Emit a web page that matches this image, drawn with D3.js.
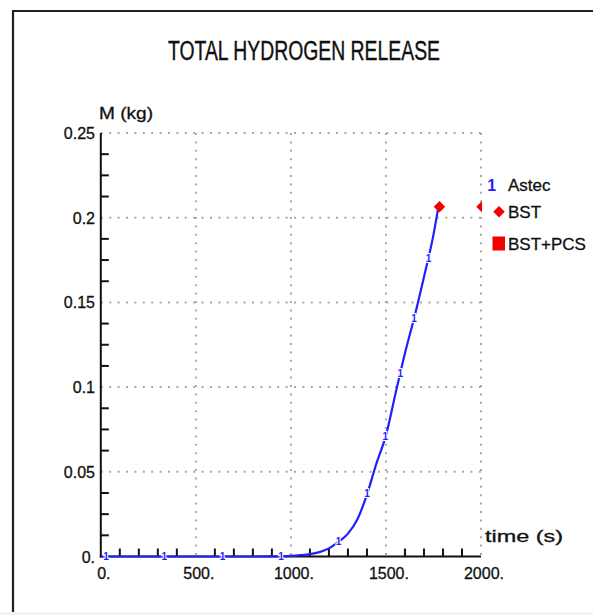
<!DOCTYPE html>
<html><head><meta charset="utf-8">
<script src="https://cdn.jsdelivr.net/npm/d3@7"></script>
<style>html,body{margin:0;padding:0;background:#fff;}svg{display:block;}</style>
</head><body>
<script>
// ---- data ----
const title = "TOTAL HYDROGEN RELEASE";
const yLabel = "M (kg)";
const xLabel = "time (s)";
const xTicks = [0, 500, 1000, 1500, 2000];
const xTickLabels = ["0.", "500.", "1000.", "1500.", "2000."];
const yTicks = [0, 0.05, 0.1, 0.15, 0.2, 0.25];
const yTickLabels = ["0.", "0.05", "0.1", "0.15", "0.2", "0.25"];
const astecT = [0,100,200,300,400,500,600,700,800,900,1000,1050,1100,1150,1200,1250,1300,1350,1400,1450,1500,1550,1600,1650,1700,1750,1776];
const astecM = [0,0,0,0,0,0,0,0,0,0.0001,0.0004,0.0008,0.0014,0.0026,0.0048,0.0086,0.0135,0.022,0.0365,0.055,0.0715,0.096,0.12,0.1415,0.165,0.19,0.2065];
const astecMarkT = [28,334,640,948,1251,1401,1496,1575,1648,1724];
const astecMarkM = [0,0,0,0.0002,0.0086,0.0372,0.0707,0.1081,0.1406,0.176];
const bstT = [1776, 2000];
const bstM = [0.2065, 0.2065];
const legendNames = ["Astec", "BST", "BST+PCS"];

// ---- drawing ----
const W = 593, H = 615;
const svg = d3.select("body").append("svg").attr("width", W).attr("height", H);
const x = d3.scaleLinear().domain([0, 2000]).range([100.8, 481]);
const y = d3.scaleLinear().domain([0, 0.25]).range([556.5, 133]);
const font = "'Liberation Sans', Arial, sans-serif";
const blue = "#1f1fff", red = "#f00000", ink = "#111";

// frame
svg.append("rect").attr("x", 0).attr("y", 612).attr("width", W).attr("height", 3).attr("fill", "#f3f3f3");
svg.append("line").attr("x1", 12).attr("x2", W).attr("y1", 11).attr("y2", 11).attr("stroke", "#222").attr("stroke-width", 2.2);
svg.append("line").attr("x1", 13).attr("x2", 13).attr("y1", 10).attr("y2", 612).attr("stroke", "#222").attr("stroke-width", 2.2);

// title
svg.append("text").attr("x", 168).attr("y", 60).attr("textLength", 272).attr("lengthAdjust", "spacingAndGlyphs")
  .attr("font-family", font).attr("font-size", 27).attr("fill", ink)
  .attr("stroke", ink).attr("stroke-width", 0.4).text(title);

// grid
const grid = svg.append("g").attr("stroke", "#a8a8a8").attr("stroke-width", 2).attr("stroke-dasharray", "2,6.4");
xTicks.slice(1).forEach(t => grid.append("line").attr("x1", x(t)).attr("x2", x(t)).attr("y1", y(0.25)).attr("y2", y(0)));
yTicks.slice(1).forEach(v => grid.append("line").attr("x1", x(0)).attr("x2", x(2000)).attr("y1", y(v)).attr("y2", y(v)));

// axes with minor ticks
const minorX = d3.range(0, 2001, 100).filter(t => t % 500 !== 0);
const minorY = d3.range(0, 21).map(i => i * 0.0125).filter((v, i) => i % 4 !== 0);
const ax = svg.append("g").attr("stroke", ink).attr("stroke-width", 2);
ax.append("line").attr("x1", x(0)).attr("x2", x(0)).attr("y1", y(0.25)).attr("y2", y(0) + 1);
ax.append("line").attr("x1", x(0) - 1).attr("x2", x(2000)).attr("y1", y(0)).attr("y2", y(0));
minorX.forEach(t => ax.append("line").attr("x1", x(t)).attr("x2", x(t)).attr("y1", y(0)).attr("y2", y(0) - 8));
minorY.forEach(v => ax.append("line").attr("x1", x(0)).attr("x2", x(0) + 8).attr("y1", y(v)).attr("y2", y(v)));

// tick labels
const lab = svg.append("g").attr("font-family", font).attr("font-size", 16).attr("fill", ink)
  .attr("stroke", ink).attr("stroke-width", 0.3);
xTicks.forEach((t, i) => lab.append("text").attr("x", x(t) + 3).attr("y", 579).attr("text-anchor", "middle").text(xTickLabels[i]));
yTicks.forEach((v, i) => lab.append("text").attr("x", 95).attr("y", y(v) + 6).attr("text-anchor", "end").text(yTickLabels[i]));

// axis labels
lab.append("text").attr("x", 99).attr("y", 119).attr("textLength", 54).attr("lengthAdjust", "spacingAndGlyphs").text(yLabel);
lab.append("text").attr("x", 485).attr("y", 542).attr("textLength", 78).attr("lengthAdjust", "spacingAndGlyphs").text(xLabel);

// clip for plot area
svg.append("defs").append("clipPath").attr("id", "plot").append("rect")
  .attr("x", x(0)).attr("y", y(0.25) - 10).attr("width", x(2000) - x(0) + 1).attr("height", y(0) - y(0.25) + 20);

// Astec curve
const astec = astecT.map((t, i) => [t, astecM[i]]);
const line = d3.line().x(d => x(d[0])).y(d => y(d[1])).curve(d3.curveMonotoneX);
svg.append("path").attr("d", line(astec)).attr("fill", "none").attr("stroke", blue).attr("stroke-width", 2.2);

// Astec markers "1"
astecMarkT.forEach((t, i) => svg.append("text").attr("x", x(t)).attr("y", y(astecMarkM[i]) + 3.5)
  .attr("text-anchor", "middle").attr("font-family", font).attr("font-size", 10).attr("font-weight", "bold")
  .attr("fill", blue).attr("stroke", "#fff").attr("stroke-width", 2).attr("paint-order", "stroke").text("1"));

// BST diamonds (square rotated 45 degrees)
const diamond = d3.symbol().type(d3.symbolSquare).size(66);
const bg = svg.append("g").attr("clip-path", "url(#plot)");
bstT.forEach((t, i) => bg.append("path").attr("d", diamond())
  .attr("transform", `translate(${x(t) + 1},${y(bstM[i])}) rotate(45)`).attr("fill", red));

// legend
const lg = svg.append("g").attr("font-family", font).attr("font-size", 17).attr("fill", ink)
  .attr("stroke", ink).attr("stroke-width", 0.3);
lg.append("text").attr("x", 491.7).attr("y", 191).attr("text-anchor", "middle").attr("font-weight", "bold")
  .attr("fill", blue).attr("stroke", "none").attr("font-size", 16).text("1");
lg.append("text").attr("x", 508).attr("y", 191).text(legendNames[0]);
lg.append("path").attr("d", diamond()).attr("transform", "translate(499,211.7) rotate(45)").attr("fill", red).attr("stroke", "none");
lg.append("text").attr("x", 508).attr("y", 218).text(legendNames[1]);
lg.append("rect").attr("x", 492.5).attr("y", 236.5).attr("width", 12.5).attr("height", 14).attr("fill", red).attr("stroke", "none");
lg.append("text").attr("x", 508).attr("y", 250).text(legendNames[2]);
</script>
</body></html>
